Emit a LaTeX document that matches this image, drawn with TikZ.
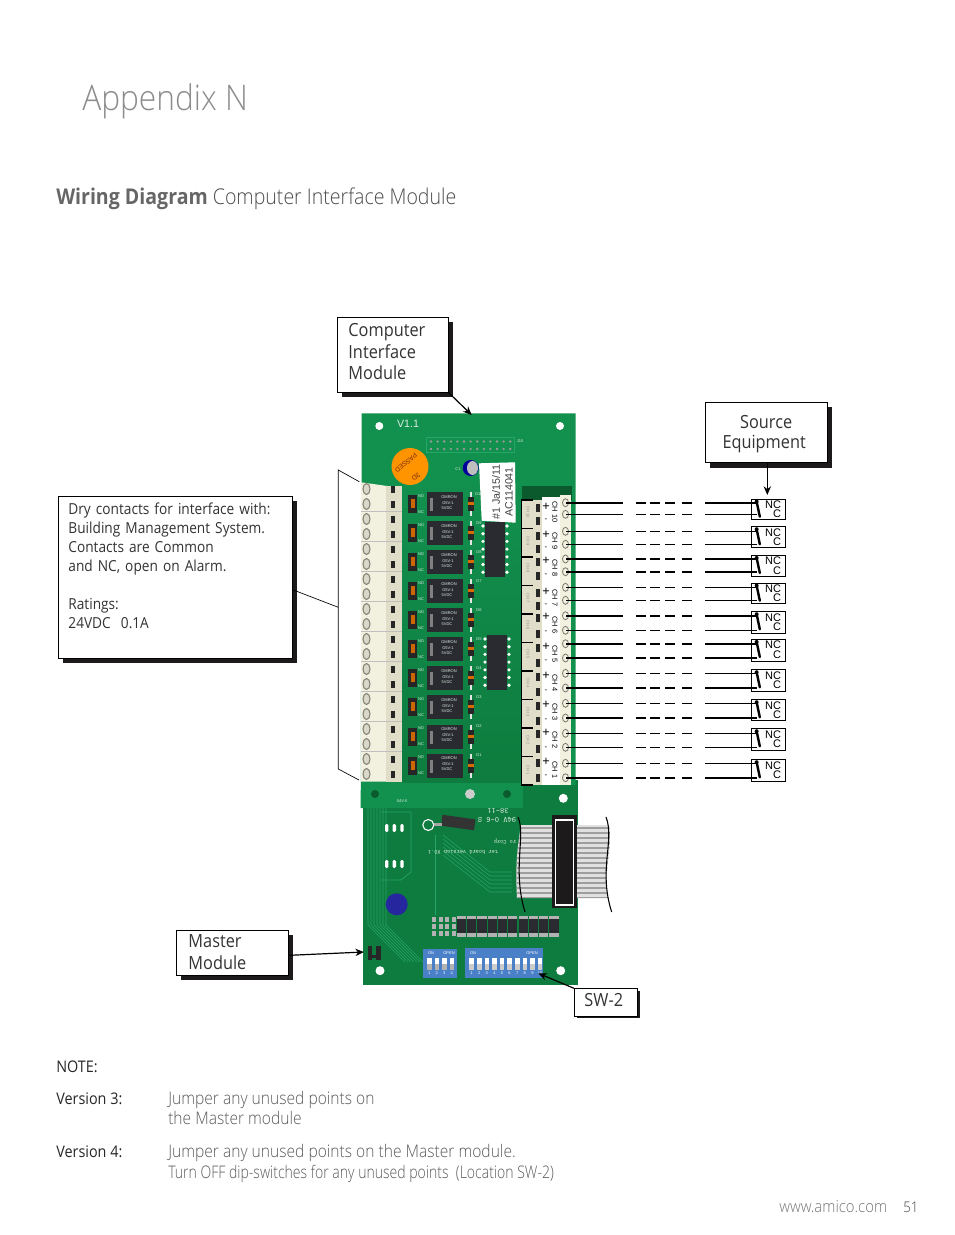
\documentclass[tikz,border=0pt]{standalone}
\usepackage{fontspec}
\setmainfont{Open Sans}[FakeStretch=0.9]
\newfontfamily\lightfont{Open Sans Light}[FakeStretch=0.9]
\newfontfamily\tightfont{Open Sans Light}[FakeStretch=0.81]
\newfontfamily\headbold{Open Sans Bold}[FakeStretch=0.9]
\newfontfamily\pcbfont{Liberation Sans}
\usetikzlibrary{shadows,arrows.meta}
\definecolor{boardup}{HTML}{12904E}
\definecolor{boardlow}{HTML}{0E7C3E}
\definecolor{boarddark}{HTML}{0A5A2E}
\definecolor{boardtrace}{HTML}{25A566}
\definecolor{cream}{HTML}{F2F0DE}
\definecolor{creamdark}{HTML}{E0DEC8}
\definecolor{relaydark}{HTML}{2A2B30}
\definecolor{dipblue}{HTML}{4A80C8}
\definecolor{shadowink}{HTML}{1C1A1B}
\definecolor{stickerink}{HTML}{7A2E0E}
\tikzset{
  labelbox/.style={draw=black, fill=white, line width=.7pt, align=left, anchor=north west,
    inner sep=0pt, drop shadow={shadow xshift=#1, shadow yshift=-#1, opacity=1, fill=shadowink}},
  labelbox/.default=3.5pt,
  boxfont/.style={font=\fontsize{13.6}{16.1}\selectfont, text=black!80},
  relaybox/.style={draw=black, fill=white, line width=.7pt, anchor=north west, minimum width=25.5pt, inner sep=0pt},
  wirethin/.style={line width=.7pt},
  wirethick/.style={line width=1.5pt},
  wiredash/.style={dash pattern=on 42.75pt off 9.75pt on 7.5pt off 3pt on 7.5pt off 3.75pt on 7.5pt off 5.25pt on 7.5pt off 9.75pt on 100pt},
  callarrow/.style={-{Stealth[length=6.5pt,width=5.5pt]}, line width=.9pt},
  pcbtext/.style={font=\pcbfont\fontsize{3}{3}\selectfont, text=white!85!boardup, inner sep=0pt},
  chtext/.style={font=\pcbfont\fontsize{5.5}{6}\selectfont, inner sep=0pt, rotate=-90},
  pagetext/.style={anchor=base west, inner sep=0pt, text=black!65, font=\lightfont\fontsize{13}{15}\selectfont},
  sidetext/.style={anchor=base west, inner sep=0pt, text=black!85, font=\fontsize{12}{14}\selectfont}
}
\begin{document}
\begin{tikzpicture}[x=.75pt,y=-.75pt]
\path[use as bounding box] (0,0) rectangle (954,1235);

% page text
\node[pagetext, text=black!45, font=\lightfont\fontsize{26.4}{30}\selectfont] (title) at (82,110) {Appendix N};
\node[pagetext, text=black!70, font=\lightfont\fontsize{16.3}{18}\selectfont] (heading) at (56,204) {{\headbold\color{black!60}Wiring Diagram} Computer Interface Module};
\node[sidetext] (note) at (56,1072) {NOTE:};
\node[sidetext] (vthree) at (56,1104) {Version 3:};
\node[sidetext] (vfour) at (56,1157) {Version 4:};
\node[pagetext] (vthreea) at (168,1104) {Jumper any unused points on};
\node[pagetext] (vthreeb) at (168,1124) {the Master module};
\node[pagetext] (vfoura) at (168,1157) {Jumper any unused points on the Master module.};
\node[pagetext, font=\tightfont\fontsize{13}{15}\selectfont] (vfourb) at (168,1178) {Turn OFF dip-switches for any unused points\ \ (Location SW-2)};
\node[pagetext, text=black!55, font=\lightfont\fontsize{12.4}{14}\selectfont] (web) at (779,1212) {www.amico.com};
\node[pagetext, text=black!75, font=\lightfont\fontsize{11}{13}\selectfont] (page) at (903,1212) {51};

% lower board
\fill[boardlow] (363,780) rectangle (578.3,984.5);
\foreach \a in {0,...,6}
  \draw[boardtrace, line width=.4pt] (368+3*\a,808) -- (368+3*\a,925) -- (405+3*\a,962);
\foreach \a in {0,...,5}
  \draw[boardtrace, line width=.4pt] (443,835+4*\a) -- (490,872+4*\a) -- (512,872+4*\a);
\draw[boardtrace, line width=.5pt] (435,835) -- (435,915);
\draw[boardtrace, line width=.5pt] (381,812) -- (411,812) -- (411,872) -- (401,880) -- (381,880);
\foreach \y in {828,864}
  \foreach \x in {386.7,394.3,402}
    \fill[white, rounded corners=1pt] (\x-1.7,\y-4) rectangle ++(3.4,8);
\fill[blue!55!black!85!white] (396.7,904.3) circle (11);
\fill[white] (380,970.7) circle (4.5);
\fill[white] (560.7,970.7) circle (4.5);
\fill[white] (563.3,798.3) circle (4.5);
% upside down print
\node[pcbtext, rotate=180, font=\ttfamily\fontsize{6}{6}\selectfont] (printa) at (498,811) {38-11};
\node[pcbtext, rotate=180, font=\ttfamily\fontsize{6}{6}\selectfont] (printb) at (497,820) {94V 0-6 S};
\node[pcbtext, rotate=180, font=\ttfamily\fontsize{4.5}{5}\selectfont] (printc) at (505,842) {ro Corp};
\node[pcbtext, rotate=180, font=\ttfamily\fontsize{4.5}{5}\selectfont] (printd) at (463,852) {ter board version V0.1};
% capacitor on lower board
\draw[white, line width=.8pt, fill=boardlow] (428.3,825) circle (5.5);
\fill[black!80, rotate around={-8:(458,822)}] (441.7,817) rectangle (475,828);
\fill[black!35] (434,823) rectangle (442,826);
% ribbon cable
\begin{scope}
  \clip (521,825) .. controls (518,845) and (515,860) .. (517,898) -- (608,898) .. controls (603,870) and (613,850) .. (609,825) -- cycle;
  \fill[black!12] (510,825) rectangle (615,898);
  \foreach \a in {0,...,14}
    \fill[black!38] (510,827+5*\a) rectangle (615,829+5*\a);
\end{scope}
\draw[line width=.8pt] (518,817) .. controls (526,835) and (512,870) .. (525,912);
\draw[line width=.8pt] (606,817) .. controls (615,840) and (598,870) .. (611.7,912);
\fill[shadowink] (551.7,815) rectangle (576.7,908);
\draw[white, line width=.8pt] (555.7,820) rectangle (573.3,905);
% resistors
\foreach \a in {0,...,9} {
  \fill[black!30] (456.7+10.3*\a,916) rectangle ++(9.2,20.5);
  \fill[relaydark] (456.7+10.3*\a,919) rectangle ++(9.2,14);
}
\foreach \a in {0,...,3}
  \foreach \b in {0,1,2}
    \fill[black!30] (432+6.5*\a,917+7*\b) rectangle ++(4,4.5);
% dip switches
\fill[dipblue] (423.3,949) rectangle (457.3,978);
\fill[dipblue] (465,948.3) rectangle (543.3,978.3);
\foreach \a [count=\n] in {0,...,3} {
  \fill[black!30] (427+7.5*\a,958) rectangle ++(4.7,12);
  \fill[white] (427+7.5*\a,958) rectangle ++(4.7,6);
  \node[pcbtext, text=white] (dipa\n) at (429.3+7.5*\a,973.5) {\n};
}
\foreach \a [count=\n] in {0,...,9} {
  \fill[black!20] (469.3+7.6*\a,958) rectangle ++(4.7,12);
  \fill[white] (469.3+7.6*\a,958) rectangle ++(4.7,6);
  \node[pcbtext, text=white] (dipb\n) at (471.6+7.6*\a,973.5) {\n};
}
\node[pcbtext, text=white] (dipaon) at (431,953) {ON};
\node[pcbtext, text=white] (dipbon) at (473,953) {ON};
\node[pcbtext, text=white] (dipaopen) at (449,953) {OPEN};
\node[pcbtext, text=white] (dipbopen) at (532,953) {OPEN};
\fill[black!85] (368,946) rectangle ++(4,14);
\fill[black!85] (376,946) rectangle ++(5,14);
\fill[black!85] (368,955) rectangle (381,958);

% upper board
\fill[boardup] (361.7,413.3) -- (575.7,413.3) -- (575.7,785) -- (523,785) -- (523,808) -- (360.7,808) -- cycle;
\shade[top color=boardup, bottom color=boardlow] (402,480) rectangle (522,782);
\fill[white] (379.3,426) circle (4);
\fill[white] (560,426) circle (4);
\fill[black!20] (470,794) circle (5);
\fill[boarddark] (375,794) circle (4);
\fill[boarddark] (507,794) circle (4);
\node[pcbtext, font=\pcbfont\fontsize{8}{8}\selectfont] (version) at (408,424) {V1.1};
\node[pcbtext] (sv) at (402,801) {S4V-0};
\draw[boardtrace, line width=.6pt] (426,437.7) rectangle (514,452.7);
\foreach \a in {0,...,12} {
  \fill[black!40] (431+6.6*\a,441.5) circle (1.3);
  \fill[black!40] (431+6.6*\a,449) circle (1.3);
}
\node[pcbtext] (jfifteen) at (520,441) {J15};
\fill[orange!85!yellow] (410,466.5) circle (18.5);
\node[inner sep=0pt, rotate=220, text=stickerink, font=\pcbfont\fontsize{5}{5}\selectfont] (stickera) at (406,463) {PASSED};
\node[inner sep=0pt, rotate=220, text=stickerink, font=\pcbfont\fontsize{5}{5}\selectfont] (stickerb) at (416,477) {3D};
\fill[blue!60!black] (470.7,468) circle (8);
\fill[black!25] (472.5,468) ellipse (5.5 and 7);
\node[pcbtext] (cone) at (458,469) {C1};
\fill[white] (479,463.3) -- (515,462.3) -- (515.7,522.7) -- (481.7,520.7) -- cycle;
\node[inner sep=0pt, rotate=90, text=black!75, font=\pcbfont\fontsize{8}{9}\selectfont] (datecode) at (496,492) {\#1 Ja/15/11};
\node[inner sep=0pt, rotate=90, text=black!75, font=\pcbfont\fontsize{8}{9}\selectfont] (partcode) at (509,492) {AC114041};

% relays, jumpers and diodes
\foreach \k in {0,...,9} {
  \pgfmathtruncatemacro\n{10-\k}
  \pgfmathsetmacro\ry{491.7+29.1*\k}
  \fill[relaydark] (427,\ry) rectangle ++(36,24);
  \fill[black!50] (429.5,\ry+6) rectangle ++(3.5,13);
  \node[pcbtext] (relay\n) at (449,\ry+5) {OMRON};
  \node[pcbtext] (relaytype\n) at (448,\ry+11) {G5V-1};
  \node[pcbtext] (relayvolt\n) at (447,\ry+16) {5VDC};
  \fill[black!85] (408,\ry+3) rectangle ++(9,18);
  \fill[orange!80!black] (411,\ry+7) rectangle ++(3.5,9);
  \node[pcbtext] (no\n) at (421,\ry+4) {NO};
  \node[pcbtext] (nc\n) at (421,\ry+20) {NC};
  \draw[black!10, line width=.9pt] (471,\ry) -- (471,\ry+24);
  \fill[black!85] (468,\ry+5) rectangle ++(6,14);
  \fill[orange!85!black] (468,\ry+10) rectangle ++(6,3);
  \node[pcbtext] (diode\n) at (479,\ry+2) {D\n};
}
% optocouplers
\foreach \top/\left in {522/485,635/487} {
  \fill[relaydark] (\left,\top) rectangle ++(20,55);
  \foreach \a in {0,...,6} {
    \fill[white] (\left-2,\top+4+7.7*\a) circle (1.8);
    \fill[white] (\left+22,\top+4+7.7*\a) circle (1.8);
  }
}

% left terminal block
\fill[cream] (361,482.3) -- (401.5,488) -- (401.5,781.7) -- (361,781.7) -- cycle;
\fill[creamdark] (386,486) rectangle (401.5,781.7);
\foreach \a in {0,...,19} {
  \draw[black!45!cream, fill=cream!90!black, line width=.8pt] (366.5,489+15*\a) ellipse (3.5 and 5.5);
  \fill[black!85] (390.5,486+15*\a) rectangle ++(4,7);
}
\foreach \a in {1,...,9}
  \draw[black!25, line width=.5pt] (361,481.5+30*\a) -- (401.5,481.5+30*\a);

% right terminal block
\fill[boarddark] (521.7,486) rectangle (571.7,500);
\fill[creamdark] (521.7,500) rectangle (542,785);
\draw[black, line width=.8pt] (533,500) -- (521.7,500) -- (521.7,785) -- (533,785);
\foreach \a in {1,...,9}
  \draw[black, line width=.8pt] (521.7,500+28.5*\a) -- (533,500+28.5*\a);
\fill[white] (542,497) rectangle (560,785);
\fill[cream] (560,495) rectangle (571,785);
\foreach \y/\ch in {512/10,541/9,568/8,598/7,625/6,654/5,683/4,712/3,740/2,770/1} {
  \node[chtext] (ch\ch) at (555,\y) {CH \ch};
  \node[pcbtext, rotate=-90, text=black!45] (chsmall\ch) at (528,\y) {CH \ch};
}
\foreach \y [count=\n] in {506.7,535,561,591.7,617,646.7,676,705,732.7,762.3} {
  \node[font=\pcbfont\fontsize{9.5}{9.5}\selectfont, inner sep=0pt] (plus\n) at (546,\y) {+};
  \fill[black!85] (535.5,\y-3) rectangle ++(4.5,8);
}
\foreach \y [count=\n] in {520,548,575,605,632.7,661.7,691,720,748,776.7} {
  \node[font=\pcbfont\fontsize{6}{6}\selectfont, inner sep=0pt] (minus\n) at (546,\y) {-};
  \fill[black!85] (535.5,\y-3) rectangle ++(4.5,8);
}

% relay contact boxes
\foreach \t/\h [count=\i] in {498.7/20.6,526.3/21,555/20.5,582.7/20.6,611.3/22,639/22.3,669.3/22,699.3/21,728.3/22,759.3/22} {
  \node[relaybox, minimum height=\h*.75pt] (rb\i) at (750.5,\t) {};
  \node[font=\pcbfont\fontsize{8.25}{9}\selectfont, inner sep=0pt] (nclabel\i) at (773,\t+6) {NC};
  \node[font=\pcbfont\fontsize{8.25}{9}\selectfont, inner sep=0pt] (clabel\i) at (777,\t+15.5) {C};
}

% wires
\foreach \y/\w [count=\j] in {502.7/wirethick,514.3/wirethin,531.3/wirethin,544.3/wirethin,559/wirethick,571.7/wirethick,587.3/wirethin,600.3/wirethin,615.7/wirethick,630.3/wirethin,643.7/wirethick,658/wirethick,673.3/wirethin,688/wirethick,703.3/wirethin,718/wirethick,733.3/wirethin,747.3/wirethin,763.3/wirethin,777.7/wirethick} {
  \draw[black!50!cream, fill=cream, line width=.6pt] (565.5,\y) ellipse (3 and 4);
  \coordinate (t\j) at (566,\y);
  \coordinate (sw\j) at (757,\y);
  \draw[\w, wiredash] (t\j) -- (sw\j);
}
% switch arms
\foreach \i in {1,...,10} {
  \draw[line width=1.8pt, line cap=round] ([xshift=4.6pt,yshift=-2.2pt]rb\i.north west) -- ([xshift=7pt,yshift=-13.5pt]rb\i.north west);
  \fill ([xshift=4.6pt,yshift=-2.2pt]rb\i.north west) circle (2);
}

% callout boxes
\node[labelbox, boxfont, minimum width=82.8pt, minimum height=55.8pt, text width=66.8pt] (computer) at (337.3,317.3) {Computer\\Interface\\Module\rule[-5pt]{0pt}{0pt}};
\node[labelbox, boxfont, minimum width=91.5pt, minimum height=45.5pt, align=center, text width=87pt, font=\fontsize{13.6}{15.4}\selectfont] (source) at (704.7,401.7) {\rule{0pt}{12.5pt}Source\hspace*{6pt}\\Equipment\hspace*{3pt}};
\node[labelbox, minimum width=175.5pt, minimum height=121.7pt, text width=161pt, text=black!80, font=\fontsize{11.4}{14.25}\selectfont] (dry) at (58.3,496) {Dry contacts for interface with:\\Building Management System.\\Contacts are Common\\and NC, open on Alarm.\\~\\Ratings:\\24VDC\ \ 0.1A\\~\rule[-3pt]{0pt}{0pt}};
\node[labelbox, boxfont, minimum width=84pt, minimum height=33.7pt, text width=66pt] (master) at (176,930) {Master\\Module\rule[-1.5pt]{0pt}{0pt}};
\node[labelbox=1.7pt, boxfont, minimum width=47.5pt, minimum height=20.5pt, text width=32.5pt] (swtwo) at (574,988.3) {SW-2\rule[-4pt]{0pt}{0pt}};

% connectors
\coordinate (boardtop) at (471.7,415);
\coordinate (rbtop) at (767.3,495);
\coordinate (masterpin) at (364,952);
\coordinate (dipend) at (538.3,973.3);
\coordinate (bracka) at (359.3,481.7);
\coordinate (brackb) at (338.3,470);
\coordinate (brackc) at (338.3,769);
\coordinate (brackd) at (359,780);
\coordinate (brackm) at (338.3,607.3);
\draw[callarrow] (computer.south east) -- (boardtop);
\draw[callarrow] (rbtop |- source.south) -- (rbtop);
\draw[callarrow] ([yshift=-1.8pt]master.east) -- (masterpin);
\draw[callarrow] (swtwo.north west) -- (dipend);
\draw[line width=.5pt] (bracka) -- (brackb) -- (brackc) -- (brackd);
\draw[line width=.5pt] (dry.-6.8) -- (brackm);
\end{tikzpicture}
\end{document}
